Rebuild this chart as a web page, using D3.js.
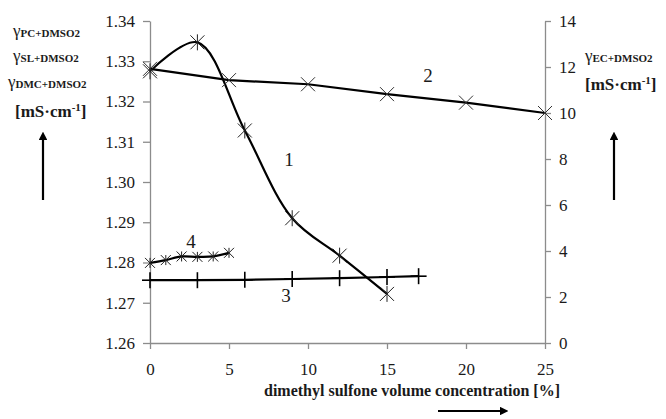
<!DOCTYPE html>
<html><head><meta charset="utf-8">
<script src="https://cdn.jsdelivr.net/npm/d3@7"></script>
<style>
html,body{margin:0;padding:0;background:#fff;}
svg{display:block;}
text{font-family:"Liberation Serif",serif;fill:#1a1a1a;}
</style></head>
<body><svg id="c" width="666" height="419"></svg>
<script>
// Data
const xTicks = [0, 5, 10, 15, 20, 25];
const leftTicks = [1.26, 1.27, 1.28, 1.29, 1.30, 1.31, 1.32, 1.33, 1.34];
const rightTicks = [0, 2, 4, 6, 8, 10, 12, 14];
// 1: PC+DMSO2 (left axis)
const s1x = [0, 3, 6, 9, 12, 15];
const s1y = [1.3275, 1.3347, 1.3128, 1.2910, 1.2817, 1.2722];
// 2: EC+DMSO2 (right axis)
const s2x = [0, 5, 10, 15, 20, 25];
const s2y = [11.92, 11.43, 11.25, 10.82, 10.45, 10.0];
// 3: SL+DMSO2 (left axis)
const s3x = [0, 3, 6, 9, 12, 15, 17];
const s3y = [1.2756, 1.2756, 1.2757, 1.2759, 1.2761, 1.2764, 1.2766];
// 4: DMC+DMSO2 (left axis)
const s4x = [0, 1, 2, 3, 4, 5];
const s4y = [1.2799, 1.2806, 1.2815, 1.2814, 1.2815, 1.2824];

const svg = d3.select("#c");
const x = d3.scaleLinear().domain([0, 25]).range([150, 545]);
const yL = d3.scaleLinear().domain([1.26, 1.34]).range([343, 21]);
const yR = d3.scaleLinear().domain([0, 14]).range([343, 21]);
const axisCol = "#8c8c8c";

function styleAxis(g){
  g.attr("font-family", "Liberation Serif").attr("font-size", 17);
  g.selectAll("path,line").attr("stroke", axisCol).attr("stroke-width", 1.3);
  g.selectAll("text").attr("font-family","Liberation Serif").attr("font-size",17).attr("fill","#1a1a1a");
}
svg.append("g").attr("transform","translate(0,343)")
  .call(d3.axisBottom(x).tickValues(xTicks).tickSize(6).tickSizeOuter(0).tickPadding(14))
  .call(styleAxis);
svg.append("g").attr("transform","translate(150,0)")
  .call(d3.axisLeft(yL).tickValues(leftTicks).tickFormat(d3.format(".2f")).tickSize(7).tickSizeOuter(0).tickPadding(8))
  .call(styleAxis);
svg.append("g").attr("transform","translate(545,0)")
  .call(d3.axisRight(yR).tickValues(rightTicks).tickSize(6).tickSizeOuter(0).tickPadding(8))
  .call(styleAxis);

function pts(xs, ys, ys_scale){ return xs.map((v,i)=>[x(v), ys_scale(ys[i])]); }

// series lines
const p1 = pts(s1x, s1y, yL), p2 = pts(s2x, s2y, yR), p3 = pts(s3x, s3y, yL), p4 = pts(s4x, s4y, yL);
const smooth = d3.line().curve(d3.curveCatmullRom.alpha(0.5));
const straight = d3.line();
const lines = svg.append("g").attr("fill","none").attr("stroke","#000").attr("stroke-width",2.2);
lines.append("path").attr("d", straight(p2));
lines.append("path").attr("d", straight(p3));
lines.append("path").attr("d", smooth(p4));
lines.append("path").attr("d", smooth(p1));

// markers
const mk = svg.append("g").attr("fill","none");
function cross(p, r, col, w){ mk.append("path").attr("d",`M${p[0]-r},${p[1]-r}L${p[0]+r},${p[1]+r}M${p[0]-r},${p[1]+r}L${p[0]+r},${p[1]-r}`).attr("stroke",col).attr("stroke-width",w); }
function vert(p, r, col, w){ mk.append("path").attr("d",`M${p[0]},${p[1]-r}L${p[0]},${p[1]+r}`).attr("stroke",col).attr("stroke-width",w); }
function hor(p, r, col, w){ mk.append("path").attr("d",`M${p[0]-r},${p[1]}L${p[0]+r},${p[1]}`).attr("stroke",col).attr("stroke-width",w); }
p2.forEach(p=>cross(p, 7, "#333", 1));
p1.forEach(p=>{ cross(p, 7, "#222", 1); vert(p, 8, "#222", 1); });
p3.forEach(p=>{ vert(p, 8, "#000", 1.6); hor(p, 8, "#000", 1.6); });
p4.forEach(p=>{ cross(p, 5, "#222", 1); vert(p, 5, "#222", 1); });

// curve numbers
const nums = [["1", x(8.8), yL(1.304)], ["2", x(17.6), yR(11.35)], ["3", x(8.6), yL(1.2703)], ["4", x(2.6), yL(1.2836)]];
svg.append("g").selectAll("text").data(nums).join("text")
  .attr("x", d=>d[1]).attr("y", d=>d[2]).attr("text-anchor","middle")
  .attr("font-family","Liberation Serif").attr("font-size",19).text(d=>d[0]);

// left axis title
function gammaLabel(xp, yp, sub){
  const t = svg.append("text").attr("x", xp).attr("y", yp).attr("font-family","Liberation Serif");
  t.append("tspan").attr("font-size",17).text("γ");
  t.append("tspan").attr("font-size",11).attr("font-weight","bold").attr("dy", 1).text(sub);
}
gammaLabel(13, 36, "PC+DMSO2");
gammaLabel(13, 61, "SL+DMSO2");
gammaLabel(8, 87, "DMC+DMSO2");
function unitLabel(xp, yp){
  const t = svg.append("text").attr("x", xp).attr("y", yp).attr("font-family","Liberation Serif").attr("font-size",17).attr("font-weight","bold");
  t.append("tspan").text("[mS·cm");
  t.append("tspan").attr("dy",-6).attr("font-size",11).text("-1");
  t.append("tspan").attr("dy",6).text("]");
}
unitLabel(15, 117);
gammaLabel(585, 61, "EC+DMSO2");
unitLabel(585, 90);

// arrows
svg.append("defs").append("marker").attr("id","ah").attr("viewBox","0 0 10 10").attr("refX",5).attr("refY",5)
  .attr("markerWidth",4).attr("markerHeight",4).attr("orient","auto")
  .append("path").attr("d","M0,0L10,5L0,10z").attr("fill","#000");
function arrow(x1,y1,x2,y2){ svg.append("line").attr("x1",x1).attr("y1",y1).attr("x2",x2).attr("y2",y2).attr("stroke","#000").attr("stroke-width",2.2).attr("marker-end","url(#ah)"); }
arrow(43, 200, 43, 136);
arrow(614, 200, 614, 136);
arrow(438, 411, 504, 411);

// x axis title
svg.append("text").attr("x", 412).attr("y", 396).attr("text-anchor","middle")
  .attr("font-family","Liberation Serif").attr("font-size",16).attr("font-weight","bold").text("dimethyl sulfone volume concentration [%]");
</script></body></html>
